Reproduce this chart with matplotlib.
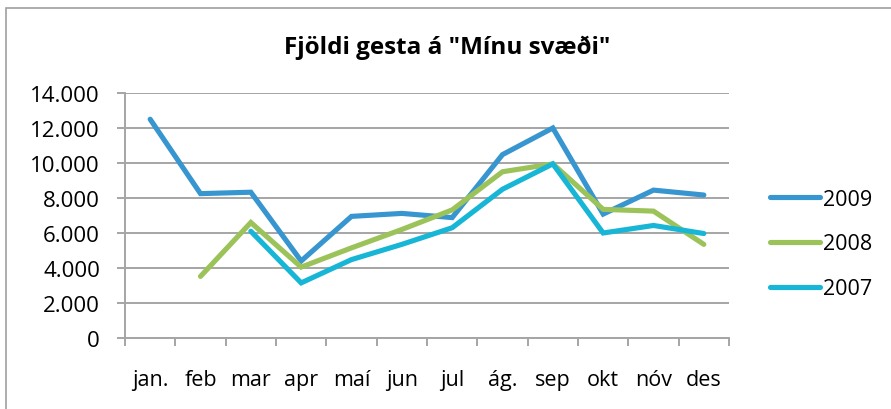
import matplotlib
matplotlib.use("Agg")
import matplotlib.pyplot as plt
import numpy as np

plt.rcParams["font.family"] = ["Open Sans", "DejaVu Sans"]

months = ["jan.", "feb", "mar", "apr", "maí", "jun", "jul", "ág.", "sep", "okt", "nóv", "des"]
v2009 = [12500, 8250, 8330, 4400, 6950, 7120, 6880, 10480, 12000, 7080, 8450, 8170]
v2008 = [np.nan, 3520, 6600, 4050, 5150, 6200, 7320, 9500, 9950, 7350, 7250, 5350]
v2007 = [np.nan, np.nan, 6100, 3150, 4480, 5350, 6300, 8500, 9950, 6000, 6430, 5970]
yticks = [0, 2000, 4000, 6000, 8000, 10000, 12000, 14000]

series = [("2009", v2009, "#3795d0"), ("2008", v2008, "#9bc35a"), ("2007", v2007, "#17b6d6")]

fig = plt.figure(figsize=(8.91, 4.10), dpi=100)
ax = fig.add_axes([125 / 891, 1 - 339 / 410, 604 / 891, 245 / 410])

x = np.arange(len(months))
for name, vals, col in series:
    ax.plot(x, vals, color=col, lw=3.7, solid_capstyle="round", solid_joinstyle="miter", label=name)

grid_c = "#a5a5a5"
ax.set_xlim(-0.5, len(months) - 0.5)
ax.set_ylim(0, 14000)
ax.set_yticks(yticks)
ax.set_yticklabels([f"{v:,}".replace(",", ".") for v in yticks])
ax.yaxis.grid(True, color=grid_c, lw=1.4)
ax.set_axisbelow(True)
ax.set_xticks(x)
ax.set_xticklabels(months)
ax.set_xticks(np.arange(len(months) + 1) - 0.5, minor=True)
ax.tick_params(axis="x", which="major", length=0, pad=22, labelsize=15.5)
ax.tick_params(axis="x", which="minor", length=5.5, width=1.4, color=grid_c, direction="out")
ax.tick_params(axis="y", length=5.5, width=1.4, color=grid_c, pad=12.5, labelsize=16)
for s in ["top", "right"]:
    ax.spines[s].set_visible(False)
for s in ["left", "bottom"]:
    ax.spines[s].set_color(grid_c)
    ax.spines[s].set_linewidth(1.4)

fig.text(447 / 891, 1 - 48 / 410, 'Fjöldi gesta á "Mínu svæði"', ha="center", va="center",
         fontsize=17.5, fontweight="bold")

leg = ax.legend(loc="center left", bbox_to_anchor=(751 / 891, 1 - 245 / 410),
                bbox_transform=fig.transFigure, frameon=False, fontsize=15.5,
                handlelength=2.3, handletextpad=0.15, labelspacing=1.1)

# chart border
fig.patches.append(plt.Rectangle((6 / 891, -0.05), 1.0, 1 - 9 / 410 + 0.05, transform=fig.transFigure,
                                 fill=False, edgecolor="#a0a0a0", lw=1.2))

fig.savefig("out.png", dpi=100)
